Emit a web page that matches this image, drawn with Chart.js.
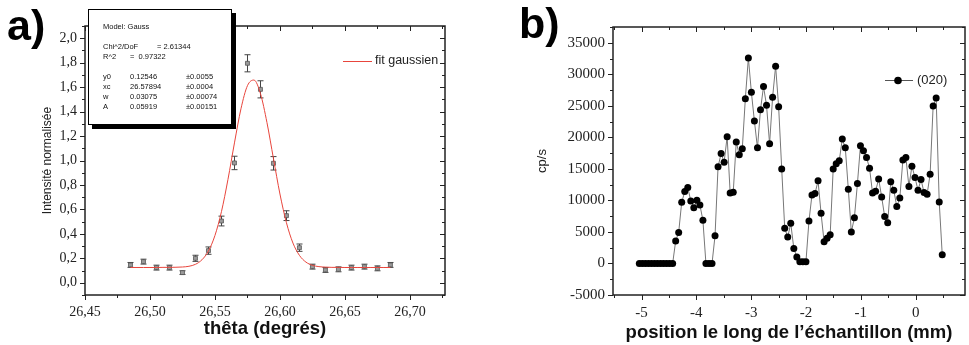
<!DOCTYPE html>
<html lang="fr">
<head>
<meta charset="UTF-8">
<title>Ajustement gaussien et profil (020)</title>
<script src="https://cdn.jsdelivr.net/npm/chart.js"></script>
<style>
  body { margin: 0; background: #fff; }
  #wrap { position: relative; width: 969px; height: 345px; }
  #chartA { position: absolute; left: 0; top: 0; }
  #chartB { position: absolute; left: 485px; top: 0; }
</style>
</head>
<body>
<div id="wrap">
  <canvas id="chartA" width="485" height="345"></canvas>
  <canvas id="chartB" width="484" height="345"></canvas>
</div>
<script>
// a) intensité normalisée en fonction de thêta
const thetaPts = [26.485, 26.495, 26.505, 26.515, 26.525, 26.535, 26.545, 26.555, 26.565, 26.575, 26.585,
                  26.595, 26.605, 26.615, 26.625, 26.635, 26.645, 26.655, 26.665, 26.675, 26.685];
const intensite = [0.146, 0.173, 0.124, 0.124, 0.083, 0.200, 0.263, 0.505, 0.980, 1.795, 1.582,
                   0.977, 0.549, 0.287, 0.132, 0.105, 0.110, 0.124, 0.132, 0.118, 0.146];
const erreur = [0.02, 0.02, 0.02, 0.02, 0.015, 0.025, 0.03, 0.04, 0.055, 0.07, 0.07,
                0.055, 0.04, 0.03, 0.02, 0.02, 0.02, 0.02, 0.02, 0.02, 0.02];

// courbe d'ajustement
const thetaFit = [26.485, 26.490, 26.495, 26.500, 26.505, 26.510, 26.515, 26.520, 26.525, 26.530, 26.535,
                  26.540, 26.545, 26.550, 26.555, 26.560, 26.565, 26.570, 26.575, 26.580, 26.585,
                  26.590, 26.595, 26.600, 26.605, 26.610, 26.615, 26.620, 26.625, 26.630, 26.635,
                  26.640, 26.645, 26.650, 26.655, 26.660, 26.665, 26.670, 26.675, 26.680, 26.685];
const fitVals = [0.125, 0.125, 0.125, 0.125, 0.125, 0.126, 0.126, 0.127, 0.129, 0.135, 0.151,
                 0.188, 0.260, 0.387, 0.582, 0.845, 1.144, 1.423, 1.612, 1.658, 1.547,
                 1.311, 1.016, 0.726, 0.491, 0.325, 0.224, 0.169, 0.143, 0.132, 0.128,
                 0.126, 0.126, 0.125, 0.125, 0.125, 0.125, 0.125, 0.125, 0.125, 0.125];

const xTicksA = [26.45, 26.50, 26.55, 26.60, 26.65, 26.70];
const yTicksA = [0, 0.2, 0.4, 0.6, 0.8, 1.0, 1.2, 1.4, 1.6, 1.8, 2.0];

const paramNames = ['y0', 'xc', 'w', 'A'];
const paramValues = ['0.12546', '26.57894', '0.03075', '0.05919'];
const paramErrors = ['±0.0055', '±0.0004', '±0.00074', '±0.00151'];
const chi2 = '2.61344';
const r2 = '0.97322';

// b) profil le long de l'échantillon, raie (020)
const posB = [-5.040, -4.985, -4.930, -4.874, -4.819, -4.764, -4.709, -4.653, -4.598, -4.543, -4.488, -4.432,
  -4.377, -4.322, -4.267, -4.211, -4.156, -4.101, -4.046, -3.990, -3.935, -3.880,
  -3.825, -3.769, -3.714, -3.659, -3.604, -3.548, -3.493, -3.438, -3.383, -3.327,
  -3.272, -3.217, -3.162, -3.106, -3.051, -2.996, -2.941, -2.885, -2.830, -2.775,
  -2.720, -2.664, -2.609, -2.554, -2.499, -2.443, -2.388, -2.333, -2.278, -2.222,
  -2.167, -2.112, -2.057, -2.001, -1.946, -1.891, -1.836, -1.780, -1.725, -1.670,
  -1.615, -1.559, -1.504, -1.449, -1.394, -1.338, -1.283, -1.228, -1.173, -1.117,
  -1.062, -1.007, -0.952, -0.896, -0.841, -0.786, -0.731, -0.675, -0.620, -0.565,
  -0.510, -0.454, -0.399, -0.344, -0.289, -0.233, -0.178, -0.123, -0.068, -0.012,
  0.043, 0.098, 0.153, 0.209, 0.264, 0.319, 0.374, 0.430, 0.485];
const cpsB = [0, 0, 0, 0, 0, 0, 0, 0, 0, 0, 0, 0,
  3550, 4930, 9700, 11400, 12050, 9920, 8850, 10020, 9280, 6840,
  0, 0, 0, 4400, 15320, 17450, 16070, 20100, 11190, 11300,
  19250, 17230, 18190, 26140, 32600, 27150, 22590, 18340, 24390, 28050,
  25090, 18980, 26360, 31290, 24870, 15000, 5570, 4190, 6360, 2390,
  1010, 270, 270, 270, 6730, 10870, 11090, 13100, 7950, 3450,
  3980, 4560, 15000, 15800, 16270, 19730, 18340, 11770, 4980, 7270,
  12680, 18660, 17870, 16810, 15110, 11190, 11450, 13410, 10550, 7430,
  6470, 12940, 11610, 9020, 10390, 16390, 16810, 12200, 15430, 13630,
  11610, 13310, 11250, 10980, 14160, 24980, 26250, 9750, 1380];

const xTicksB = [-5, -4, -3, -2, -1, 0];
const yTicksB = [-5000, 0, 5000, 10000, 15000, 20000, 25000, 30000, 35000];

const SERIF = 'Liberation Serif';
const SANS = 'Liberation Sans';

// cadre fermé + graduations majeures/mineures (extérieures en bas/gauche, intérieures en haut/droite)
function drawFrame(chart, xMinor, yMinor) {
  const {ctx, chartArea: a, scales: {x, y}} = chart;
  const isMajor = (scale, v) => scale.ticks.some(t => Math.abs(t.value - v) < 1e-6);
  ctx.save();
  ctx.strokeStyle = '#222';
  ctx.lineWidth = 1;
  ctx.beginPath();
  for (let i = Math.ceil(x.min / xMinor - 1e-6); i * xMinor <= x.max + 1e-9; i++) {
    const v = i * xMinor;
    const p = Math.round(x.getPixelForValue(v)) + 0.5;
    const L = isMajor(x, v) ? 5 : 3;
    ctx.moveTo(p, a.bottom); ctx.lineTo(p, a.bottom + L);
    ctx.moveTo(p, a.top); ctx.lineTo(p, a.top + L);
  }
  for (let i = Math.ceil(y.min / yMinor - 1e-6); i * yMinor <= y.max + 1e-9; i++) {
    const v = i * yMinor;
    const p = Math.round(y.getPixelForValue(v)) + 0.5;
    const L = isMajor(y, v) ? 5 : 3;
    ctx.moveTo(a.left, p); ctx.lineTo(a.left - L, p);
    ctx.moveTo(a.right, p); ctx.lineTo(a.right - L, p);
  }
  ctx.stroke();
  ctx.lineWidth = 1.5;
  ctx.strokeRect(a.left, a.top, a.right - a.left, a.bottom - a.top);
  ctx.restore();
}

function panelLabel(ctx, txt, x, y) {
  ctx.save();
  ctx.fillStyle = '#000';
  ctx.font = `bold 43px "${SANS}"`;
  ctx.textBaseline = 'alphabetic';
  ctx.fillText(txt, x, y);
  ctx.restore();
}

const tickFont = size => ({family: SERIF, size: size});

// ---------- a) ----------
new Chart(document.getElementById('chartA'), {
  type: 'scatter',
  data: {
    datasets: [
      {
        type: 'line',
        label: 'fit gaussien',
        data: thetaFit.map((t, i) => ({x: t, y: fitVals[i]})),
        borderColor: '#e8453c',
        borderWidth: 1,
        pointRadius: 0,
        cubicInterpolationMode: 'monotone',
        fill: false
      },
      {
        label: 'mesures',
        data: thetaPts.map((t, i) => ({x: t, y: intensite[i]})),
        pointStyle: 'rect',
        pointRadius: 2.8,
        backgroundColor: '#9a9a9a',
        borderColor: '#555',
        borderWidth: 0.8
      }
    ]
  },
  options: {
    responsive: false,
    animation: false,
    layout: {padding: {left: 40, right: 40, top: 26, bottom: 0}},
    plugins: {legend: {display: false}, tooltip: {enabled: false}},
    scales: {
      x: {
        type: 'linear', min: 26.45, max: 26.727,
        afterBuildTicks: s => { s.ticks = xTicksA.map(v => ({value: v})); },
        afterFit: s => { s.height = 50; },
        grid: {display: false, drawTicks: true, tickLength: 5},
        border: {display: false},
        ticks: {padding: 4, color: '#222', font: tickFont(14), maxRotation: 0, autoSkip: false,
                callback: v => v.toFixed(2).replace('.', ',')},
        title: {display: true, text: 'thêta (degrés)', color: '#111',
                font: {family: SANS, size: 18.5, weight: 'bold'}, padding: {top: 0, bottom: 5}}
      },
      y: {
        min: -0.1, max: 2.1,
        afterBuildTicks: s => { s.ticks = yTicksA.map(v => ({value: v})); },
        afterFit: s => { s.width = 45; },
        grid: {display: false, drawTicks: true, tickLength: 4},
        border: {display: false},
        ticks: {padding: 4, color: '#222', font: tickFont(14), callback: v => v.toFixed(1).replace('.', ',')},
        title: {display: true, text: 'Intensité normalisée', color: '#222',
                font: {family: SANS, size: 12}, padding: {top: 0, bottom: 0}}
      }
    }
  },
  plugins: [{
    id: 'errbars',
    beforeDatasetsDraw(chart) {
      const {ctx, scales: {x, y}} = chart;
      ctx.save();
      ctx.strokeStyle = '#444';
      ctx.lineWidth = 1;
      ctx.beginPath();
      thetaPts.forEach((t, i) => {
        const px = Math.round(x.getPixelForValue(t)) + 0.5;
        const top = y.getPixelForValue(intensite[i] + erreur[i]);
        const bot = y.getPixelForValue(intensite[i] - erreur[i]);
        ctx.moveTo(px, top); ctx.lineTo(px, bot);
        ctx.moveTo(px - 3, top); ctx.lineTo(px + 3, top);
        ctx.moveTo(px - 3, bot); ctx.lineTo(px + 3, bot);
      });
      ctx.stroke();
      ctx.restore();
    },
    afterDraw(chart) {
      const ctx = chart.ctx;
      drawFrame(chart, 0.025, 0.1);

      // légende
      ctx.save();
      ctx.strokeStyle = '#e8453c';
      ctx.lineWidth = 1;
      ctx.beginPath();
      ctx.moveTo(343, 61.5); ctx.lineTo(372, 61.5);
      ctx.stroke();
      ctx.fillStyle = '#222';
      ctx.font = `12.5px "${SANS}"`;
      ctx.textBaseline = 'middle';
      ctx.fillText('fit gaussien', 375, 61);

      // encadré des paramètres du fit
      ctx.fillStyle = '#000';
      ctx.fillRect(92, 13, 144, 116);
      ctx.fillStyle = '#fff';
      ctx.fillRect(88, 9, 144, 116);
      ctx.strokeStyle = '#000';
      ctx.strokeRect(88.5, 9.5, 143, 115);
      ctx.fillStyle = '#111';
      ctx.font = `7.5px "${SANS}"`;
      ctx.fillText('Model: Gauss', 103, 27);
      ctx.fillText('Chi^2/DoF', 103, 47);
      ctx.fillText('= ' + chi2, 157, 47);
      ctx.fillText('R^2', 103, 57);
      ctx.fillText('=  ' + r2, 130, 57);
      paramNames.forEach((n, i) => {
        const yy = 77 + i * 10;
        ctx.fillText(n, 103, yy);
        ctx.fillText(paramValues[i], 130, yy);
        ctx.fillText(paramErrors[i], 186, yy);
      });
      ctx.restore();

      panelLabel(ctx, 'a)', 7, 40);
    }
  }]
});

// ---------- b) ----------
new Chart(document.getElementById('chartB'), {
  type: 'line',
  data: {
    datasets: [{
      label: '(020)',
      data: posB.map((p, i) => ({x: p, y: cpsB[i]})),
      borderColor: '#777',
      borderWidth: 1,
      pointRadius: 3.5,
      pointBackgroundColor: '#000',
      pointBorderWidth: 0,
      tension: 0,
      fill: false
    }]
  },
  options: {
    responsive: false,
    animation: false,
    layout: {padding: {left: 50, right: 1, top: 27, bottom: 0}},
    plugins: {legend: {display: false}, tooltip: {enabled: false}},
    scales: {
      x: {
        type: 'linear', min: -5.52, max: 0.9,
        afterBuildTicks: s => { s.ticks = xTicksB.map(v => ({value: v})); },
        afterFit: s => { s.height = 50; },
        grid: {display: false, drawTicks: true, tickLength: 5},
        border: {display: false},
        ticks: {padding: 4, color: '#222', font: tickFont(15), maxRotation: 0, autoSkip: false},
        title: {display: true, text: 'position le long de l’échantillon (mm)', color: '#111',
                font: {family: SANS, size: 18.5, weight: 'bold'}, padding: {top: 0, bottom: 1}}
      },
      y: {
        type: 'linear', min: -5000, max: 37500,
        afterBuildTicks: s => { s.ticks = yTicksB.map(v => ({value: v})); },
        afterFit: s => { s.width = 78; },
        grid: {display: false, drawTicks: true, tickLength: 5},
        border: {display: false},
        ticks: {padding: 3, color: '#222', font: tickFont(15), callback: v => String(v)},
        title: {display: true, text: 'cp/s', color: '#222',
                font: {family: SANS, size: 13}, padding: {top: 0, bottom: 0}}
      }
    }
  },
  plugins: [{
    id: 'cadreB',
    afterDraw(chart) {
      const ctx = chart.ctx;
      drawFrame(chart, 0.5, 2500);

      // légende
      ctx.save();
      ctx.strokeStyle = '#555';
      ctx.lineWidth = 1;
      ctx.beginPath();
      ctx.moveTo(400, 80.5); ctx.lineTo(428, 80.5);
      ctx.stroke();
      ctx.fillStyle = '#000';
      ctx.beginPath();
      ctx.arc(413, 80.5, 3.8, 0, Math.PI * 2);
      ctx.fill();
      ctx.fillStyle = '#222';
      ctx.font = `13px "${SANS}"`;
      ctx.textBaseline = 'middle';
      ctx.fillText('(020)', 432, 80);
      ctx.restore();

      panelLabel(ctx, 'b)', 34, 38);
    }
  }]
});
</script>
</body>
</html>
